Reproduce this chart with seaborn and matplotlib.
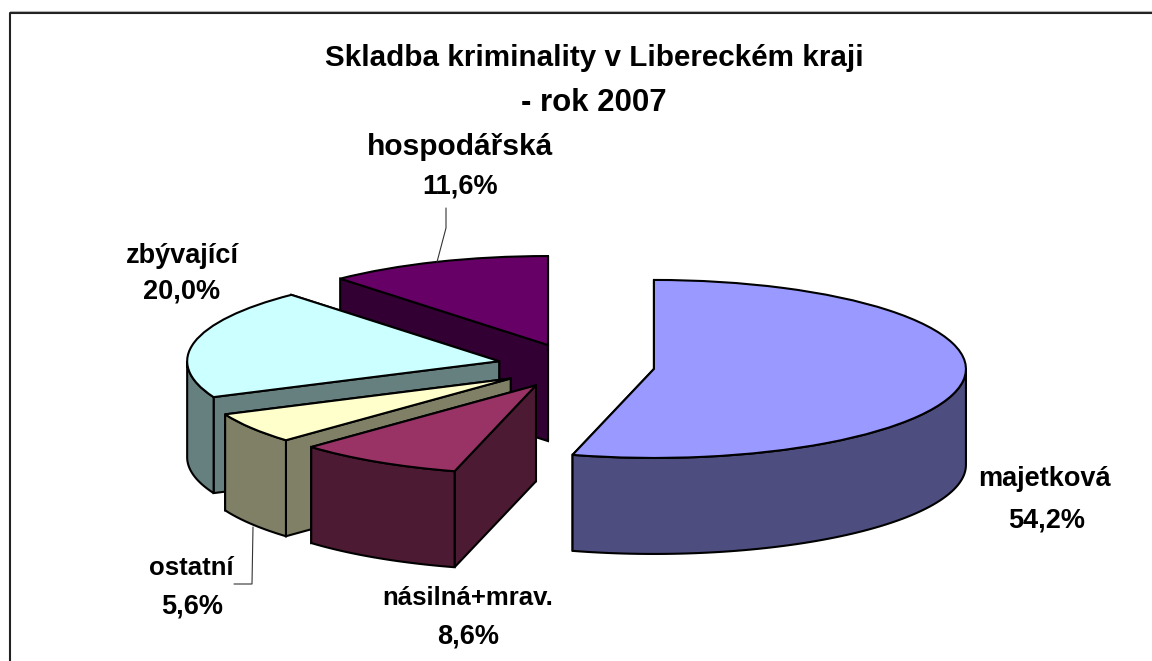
import matplotlib
matplotlib.use("Agg")
import matplotlib.pyplot as plt
import numpy as np
import seaborn as sns

# Skladba kriminality - podily v %
categories = ["majetková", "násilná+mrav.", "ostatní", "zbývající", "hospodářská"]
values = [54.2, 8.6, 5.6, 20.0, 11.6]
value_labels = ["54,2%", "8,6%", "5,6%", "20,0%", "11,6%"]
top_colors = ["#9999ff", "#993366", "#ffffcc", "#ccffff", "#660066"]
side_colors = ["#4d4d80", "#4d1a33", "#808066", "#668080", "#330033"]
draw_order = [4, 3, 2, 0, 1]  # odzadu dopredu

W, H = 1152, 661
RX, RY = 312, 89
CX, CY = 576, 366
EXPLODE = 0.252
DEPTH = 96 / RY

sns.set_theme(style="white")
plt.rcParams["font.family"] = ["Liberation Sans", "DejaVu Sans"]
plt.rcParams["font.weight"] = "bold"

fig = plt.figure(figsize=(W / 100, H / 100), dpi=100)
ax = fig.add_axes([0, 0, 1, 1])

# horni plochy
wedges, _ = ax.pie(values, explode=[EXPLODE] * len(values), colors=top_colors,
                   startangle=90, counterclock=False, radius=1,
                   wedgeprops={"edgecolor": "black", "linewidth": 1.5, "joinstyle": "miter"})
ax.set_aspect("auto")
ax.set_xlim(-CX / RX, (W - CX) / RX)
ax.set_ylim(-(H - CY) / RY, CY / RY)
ax.set_axis_off()

edges = np.concatenate([[0], np.cumsum(values)]) / sum(values) * 360
z = 2
for i in draw_order:
    a1, a2 = edges[i], edges[i + 1]
    mid = np.radians((a1 + a2) / 2)
    ox, oy = EXPLODE * np.sin(mid), EXPLODE * np.cos(mid)
    # rezy, nejdriv ten vzadu
    for a in sorted([a1, a2], key=lambda t: -np.cos(np.radians(t))):
        r = np.radians(a)
        px, py = ox + np.sin(r), oy + np.cos(r)
        ax.fill([ox, px, px, ox], [oy, py, py - DEPTH, oy - DEPTH], facecolor=side_colors[i],
                edgecolor="black", linewidth=1.5, zorder=z)
        z += 1
    # vnejsi stena, jen predni cast
    lo, hi = max(a1, 90), min(a2, 270)
    if hi > lo:
        t = np.radians(np.linspace(lo, hi, 80))
        xs = ox + np.sin(t)
        ys = oy + np.cos(t)
        ax.fill(np.r_[xs, xs[::-1]], np.r_[ys, ys[::-1] - DEPTH], facecolor=side_colors[i],
                edgecolor="black", linewidth=1.5, zorder=z)
        z += 1
    wedges[i].set_zorder(z)
    z += 1


def px(x, y):
    return x / W, 1 - y / H


# ramecek - vpravo a dole neni
fig.add_artist(plt.Line2D([10 / W, 1], [1 - 11 / H, 1 - 11 / H], color="#bbbbbb", linewidth=0.8))
fig.add_artist(plt.Line2D([10 / W, 10 / W, 1], [0, 1 - 12.5 / H, 1 - 12.5 / H], color="#222222", linewidth=1.5))

# nadpis
fs_title = 21.3
fig.text(*px(594, 58), "Skladba kriminality v Libereckém kraji", ha="center", va="center", fontsize=fs_title, color="black")
fig.text(*px(594, 103), "- rok 2007", ha="center", va="center", fontsize=22.5, color="black")

# popisky
label_pos = [(1044, 479, 1047, 521), (468, 598, 468, 636), (191, 568, 192, 606),
             (182, 256, 182, 291), (460, 147, 460, 186)]
label_sizes = [19.5, 18.5, 18.5, 19.5, 21.5]
for name, val, (x1, y1, x2, y2), fs in zip(categories, value_labels, label_pos, label_sizes):
    fig.text(*px(x1, y1), name, ha="center", va="center", fontsize=fs, color="black")
    fig.text(*px(x2, y2), val, ha="center", va="center", fontsize=19.5, color="black")

# vodici cary
for xs, ys in [([446, 446, 437], [208, 228, 262]), ([253, 252, 234], [527, 584, 584])]:
    fig.add_artist(plt.Line2D(np.array(xs) / W, 1 - np.array(ys) / H, color="#333333", linewidth=0.8, zorder=50))

fig.savefig("out.png", dpi=100, facecolor="white")
